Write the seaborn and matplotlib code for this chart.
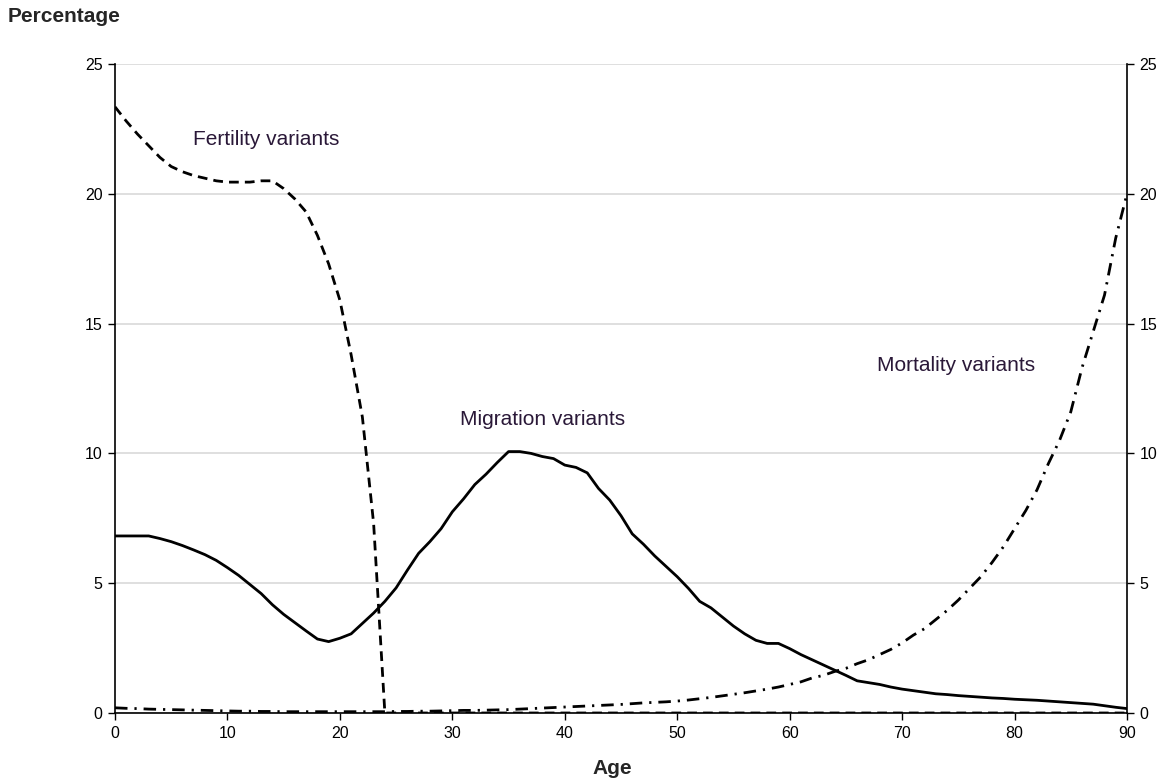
#!/usr/bin/env python3
"""
Percentage of population affected by variant assumptions, by single year of age.
"""
import matplotlib
matplotlib.use("Agg")
import matplotlib.pyplot as plt
import seaborn as sns
import pandas as pd

# Data
ages = list(range(0, 91))

fertility = [
    23.35, 22.8, 22.3, 21.85, 21.4, 21.05, 20.85, 20.7, 20.6, 20.5,
    20.45, 20.45, 20.45, 20.5, 20.5, 20.2, 19.8, 19.3, 18.4, 17.3,
    15.9, 13.8, 11.4, 7.3, 0.0,
] + [0.0] * 66

migration = [
    6.82, 6.82, 6.82, 6.82, 6.72, 6.6, 6.45, 6.28, 6.1, 5.88,
    5.6, 5.3, 4.95, 4.6, 4.17, 3.8, 3.48, 3.16, 2.85, 2.75,
    2.88, 3.05, 3.45, 3.85, 4.3, 4.82, 5.5, 6.15, 6.6, 7.1,
    7.75, 8.25, 8.8, 9.2, 9.65, 10.07, 10.07, 10.0, 9.88, 9.8,
    9.55, 9.46, 9.25, 8.65, 8.2, 7.6, 6.9, 6.5, 6.05, 5.65,
    5.25, 4.8, 4.3, 4.05, 3.7, 3.35, 3.05, 2.8, 2.68, 2.68,
    2.48, 2.25, 2.05, 1.85, 1.65, 1.45, 1.24, 1.17, 1.1, 1.0,
    0.92, 0.86, 0.8, 0.74, 0.71, 0.67, 0.64, 0.61, 0.58, 0.56,
    0.53, 0.51, 0.49, 0.46, 0.43, 0.4, 0.37, 0.34, 0.28, 0.22,
    0.17,
]

mortality = [
    0.2, 0.18, 0.17, 0.15, 0.14, 0.13, 0.12, 0.11, 0.1, 0.09,
    0.08, 0.07, 0.07, 0.06, 0.06, 0.05, 0.05, 0.05, 0.05, 0.05,
    0.05, 0.05, 0.05, 0.05, 0.05, 0.06, 0.06, 0.07, 0.07, 0.08,
    0.09, 0.1, 0.1, 0.11, 0.12, 0.13, 0.15, 0.17, 0.19, 0.21,
    0.23, 0.25, 0.27, 0.29, 0.31, 0.33, 0.36, 0.39, 0.41, 0.43,
    0.46, 0.5, 0.55, 0.6, 0.66, 0.72, 0.78, 0.85, 0.92, 1.0,
    1.1, 1.2, 1.35, 1.45, 1.6, 1.72, 1.9, 2.05, 2.25, 2.45,
    2.7, 3.0, 3.25, 3.6, 3.95, 4.35, 4.8, 5.25, 5.8, 6.4,
    7.1, 7.8, 8.6, 9.6, 10.5, 11.6, 13.3, 14.7, 16.1, 18.3,
    20.0,
]

x_ticks = list(range(0, 91, 10))
y_ticks = [0, 5, 10, 15, 20, 25]

labels = ["Fertility variants", "Migration variants", "Mortality variants"]

df = pd.DataFrame({"age": ages, "fertility": fertility,
                   "migration": migration, "mortality": mortality})

sns.set_style("white")
plt.rcParams["font.family"] = ["Liberation Sans", "DejaVu Sans"]

fig = plt.figure(figsize=(11.65, 7.8), dpi=100)
ax = fig.add_axes([115 / 1165, 67 / 780, 1012 / 1165, 649 / 780])

lw = 2.0
sns.lineplot(data=df, x="age", y="fertility", ax=ax, color="black",
             linewidth=lw, linestyle=(0, (3.5, 2.2)))
sns.lineplot(data=df, x="age", y="migration", ax=ax, color="black",
             linewidth=lw)
sns.lineplot(data=df, x="age", y="mortality", ax=ax, color="black",
             linewidth=lw, linestyle=(0, (4.5, 2.5, 0.8, 2.5)))

ax.set_xlim(0, 90)
ax.set_ylim(0, 25)
ax.set_xticks(x_ticks)
ax.set_yticks(y_ticks)
ax.yaxis.grid(True, color="#d9d9d9", linewidth=1.2)
ax.set_axisbelow(True)

for side in ["left", "right", "bottom"]:
    ax.spines[side].set_visible(True)
    ax.spines[side].set_color("black")
    ax.spines[side].set_linewidth(1.2)
ax.spines["top"].set_visible(False)

ax.tick_params(axis="both", direction="out", length=5, width=1.0,
               colors="black", labelsize=11.5, pad=4)
ax.tick_params(axis="y", left=True, right=True, labelleft=True,
               labelright=True)
ax.tick_params(axis="x", bottom=True)

ax.set_xlabel("")
ax.set_ylabel("")

fig.text(8 / 1165, 1 - 17 / 780, "Percentage", fontsize=15,
         fontweight="bold", va="center", ha="left")
fig.text(612 / 1165, 1 - 768 / 780, "Age", fontsize=15,
         fontweight="bold", va="center", ha="center")

txt_color = "#2a1838"
ax.text(6.9, 22.1, labels[0], fontsize=15, color=txt_color, va="center")
ax.text(30.7, 11.3, labels[1], fontsize=15, color=txt_color, va="center")
ax.text(67.8, 13.4, labels[2], fontsize=15, color=txt_color, va="center")

fig.savefig("out.png", dpi=100, facecolor="white")
plt.close(fig)
